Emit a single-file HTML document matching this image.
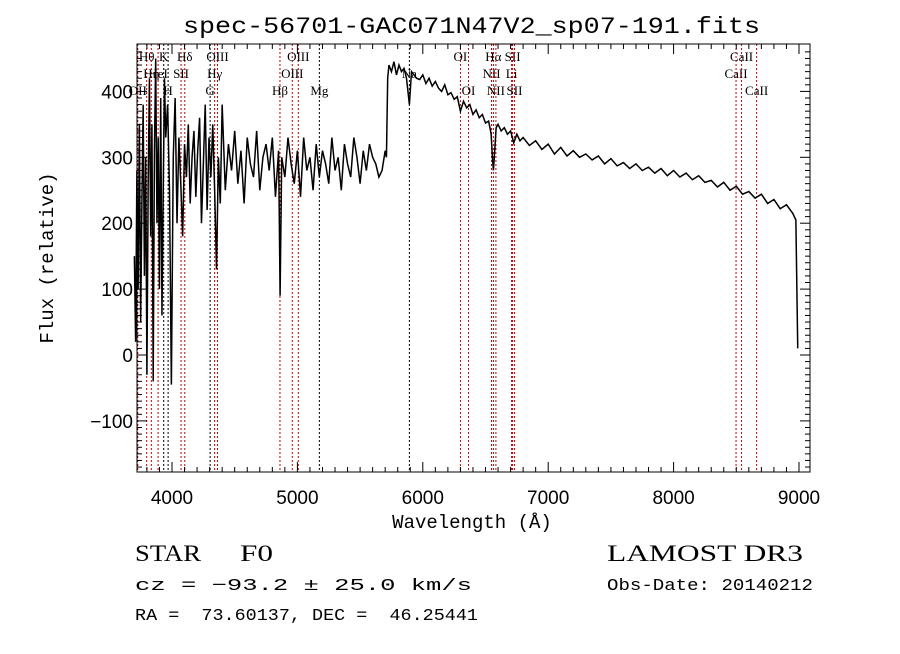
<!DOCTYPE html>
<html><head><meta charset="utf-8"><style>
body{margin:0;background:#fff;width:900px;height:649px;overflow:hidden}
</style></head><body>
<svg id="c" width="900" height="649" viewBox="0 0 900 649" style="font-family:'Liberation Sans',sans-serif">
<text x="183" y="33" font-size="23" textLength="577" lengthAdjust="spacingAndGlyphs" style="font-family:'Liberation Mono',monospace">spec-56701-GAC071N47V2_sp07-191.fits</text>
<text x="472" y="528" font-size="19" text-anchor="middle" style="font-family:'Liberation Mono',monospace">Wavelength (Å)</text>
<text x="0" y="0" font-size="19" text-anchor="middle" style="font-family:'Liberation Mono',monospace" transform="translate(53,258) rotate(-90)">Flux (relative)</text>
<text x="135" y="561" font-size="23" textLength="66" lengthAdjust="spacingAndGlyphs" style="font-family:'Liberation Serif',serif">STAR</text>
<text x="240" y="561" font-size="23" textLength="33" lengthAdjust="spacingAndGlyphs" style="font-family:'Liberation Serif',serif">F0</text>
<text x="607" y="561" font-size="23" textLength="196" lengthAdjust="spacingAndGlyphs" style="font-family:'Liberation Serif',serif">LAMOST DR3</text>
<text x="135" y="590" font-size="17" textLength="337" lengthAdjust="spacingAndGlyphs" style="font-family:'Liberation Mono',monospace">cz = −93.2 ± 25.0 km/s</text>
<text x="607" y="590" font-size="17" textLength="206" lengthAdjust="spacingAndGlyphs" style="font-family:'Liberation Mono',monospace">Obs-Date: 20140212</text>
<text x="135" y="620" font-size="17" textLength="343" lengthAdjust="spacingAndGlyphs" style="font-family:'Liberation Mono',monospace;white-space:pre" xml:space="preserve">RA =  73.60137, DEC =  46.25441</text>
<g id="lines"></g><g id="spec"></g><g id="axes"></g>
</svg>
<script>
const xTicks=[4000,5000,6000,7000,8000,9000];
const yTicks=[-100,0,100,200,300,400];
const lineWaves=[3727,3798,3835,3889,3934,3969,4072,4102,4304,4340,4363,4861,4959,5007,5175,5893,6300,6364,6548,6563,6583,6708,6716,6731,8498,8542,8662];
const lineNames=["OII","Hθ","Hη","HeI","K","H","SII","Hδ","G","Hγ","OIII","Hβ","OIII","OIII","Mg","Na","OI","OI","NII","Hα","NII","Li","SII","SII","CaII","CaII","CaII"];
const lineRows=[2,0,1,1,0,2,1,0,2,1,0,2,1,0,2,1,0,2,1,0,2,1,0,2,1,0,2];
const lineRed=[1,1,1,1,0,0,1,1,0,1,1,1,1,1,0,0,1,1,1,1,1,1,1,1,1,1,1];
const specW=[3700,3710,3720,3730,3740,3750,3760,3770,3780,3790,3800,3810,3820,3830,3840,3850,3860,3870,3880,3890,3900,3910,3920,3930,3940,3950,
3965,3980,3995,4010,4025,4040,4055,4070,4085,4100,4115,4130,4145,4160,4175,4190,4205,4220,4235,4250,4265,4280,4295,4310,4325,4340,4355,4370,4385,4400,
4425,4450,4475,4500,4525,4550,4575,4600,4625,4650,4675,4700,4725,4750,4775,4800,4825,4850,4862,4875,4900,4925,4950,4975,5000,5025,5050,5075,5100,5125,5150,5175,5200,5225,5250,5275,5300,5325,5350,5375,5400,5425,5450,5475,5500,5525,5550,5575,5600,5625,5650,5675,5700,
5710,5720,5730,5750,5770,5790,5810,5830,5850,5870,
5893,5910,5930,5950,5975,6000,6025,6050,6075,6100,
6125,6150,6175,6200,6225,6250,6275,6300,6325,6350,
6375,6400,6425,6450,6475,6500,6525,6545,6555,6563,
6570,6585,6600,6625,6650,6675,6700,6725,6750,6775,
6800,6850,6900,6950,7000,7050,7100,7150,7200,7250,
7300,7350,7400,7450,7500,7550,7600,7650,7700,7750,
7800,7850,7900,7950,8000,8050,8100,8150,8200,8250,
8300,8350,8400,8450,8500,8550,8600,8650,8700,8750,
8800,8850,8900,8950,8975,8990];
const specF=[150,20,280,100,350,50,230,380,120,300,-30,260,420,180,350,-40,310,450,200,330,100,390,60,250,420,330,
380,250,-45,300,390,200,330,260,180,320,270,350,230,300,340,240,310,360,200,290,380,220,330,270,350,250,130,300,230,380,
250,320,280,340,260,310,230,330,290,270,340,250,300,320,280,330,240,310,90,300,270,330,290,260,310,240,330,280,300,250,320,270,310,290,260,330,280,300,250,320,290,270,330,300,260,310,280,320,300,290,270,280,310,
300,420,440,430,445,425,440,430,435,420,
380,430,425,420,418,425,412,420,408,415,
405,400,410,395,398,388,392,370,385,375,
380,365,372,360,365,352,355,335,300,280,
300,345,350,340,345,335,340,322,335,325,
330,318,325,312,320,305,315,302,310,300,
305,296,302,290,298,287,292,283,290,280,
285,276,283,272,280,270,276,266,272,262,
265,255,262,250,256,244,248,238,244,230,
236,222,228,215,205,10];
const X=w=>172+(w-4000)*0.1254, Y=v=>355-v*0.659;
const L=137,R=810,T=44,B=472, NS="http://www.w3.org/2000/svg";
function mk(t,a,p){const e=document.createElementNS(NS,t);for(const k in a)e.setAttribute(k,a[k]);p.appendChild(e);return e;}
const gl=document.getElementById('lines');
lineWaves.forEach((w,i)=>{
 const l=mk('line',{x1:X(w),x2:X(w),y1:T,y2:B,stroke:lineRed[i]?'#c00000':'#000','stroke-width':1,'stroke-dasharray':'2,2'},gl);
 
 
 const t=mk('text',{x:X(w),y:61+lineRows[i]*17,'font-size':13,'text-anchor':'middle',style:"font-family:'Liberation Serif',serif"},gl);
 t.textContent=lineNames[i];
 
 
});
const gs=document.getElementById('spec');
const n=Math.min(specW.length,specF.length);
const pts=[];for(let i=0;i<n;i++)pts.push(X(specW[i])+','+Y(specF[i]));
const pl=mk('polyline',{points:pts.join(' '),fill:'none',stroke:'#000','stroke-width':1.5},gs);


const ga=document.getElementById('axes');
const fr=mk('rect',{x:L,y:T,width:R-L,height:B-T,fill:'none',stroke:'#000','stroke-width':1},ga);


for(let w=3800;w<=9000;w+=100){const x=X(w),m=w%1000==0?10:5;
 mk('line',{x1:x,x2:x,y1:B,y2:B-m,stroke:'#000'},ga);mk('line',{x1:x,x2:x,y1:T,y2:T+m,stroke:'#000'},ga);}
for(let v=-170;v<=460;v+=10){const y=Y(v),m=v%100==0?10:5;
 mk('line',{x1:L,x2:L+m,y1:y,y2:y,stroke:'#000'},ga);mk('line',{x1:R,x2:R-m,y1:y,y2:y,stroke:'#000'},ga);}
xTicks.forEach(w=>{const t=mk('text',{x:X(w),y:504,'font-size':19,'text-anchor':'middle'},ga);t.textContent=w;
 
 });
yTicks.forEach(v=>{const t=mk('text',{x:133,y:Y(v)+7,'font-size':19,'text-anchor':'end'},ga);t.textContent=v<0?'−'+(-v):v;
 
 });
</script>
</body></html>
